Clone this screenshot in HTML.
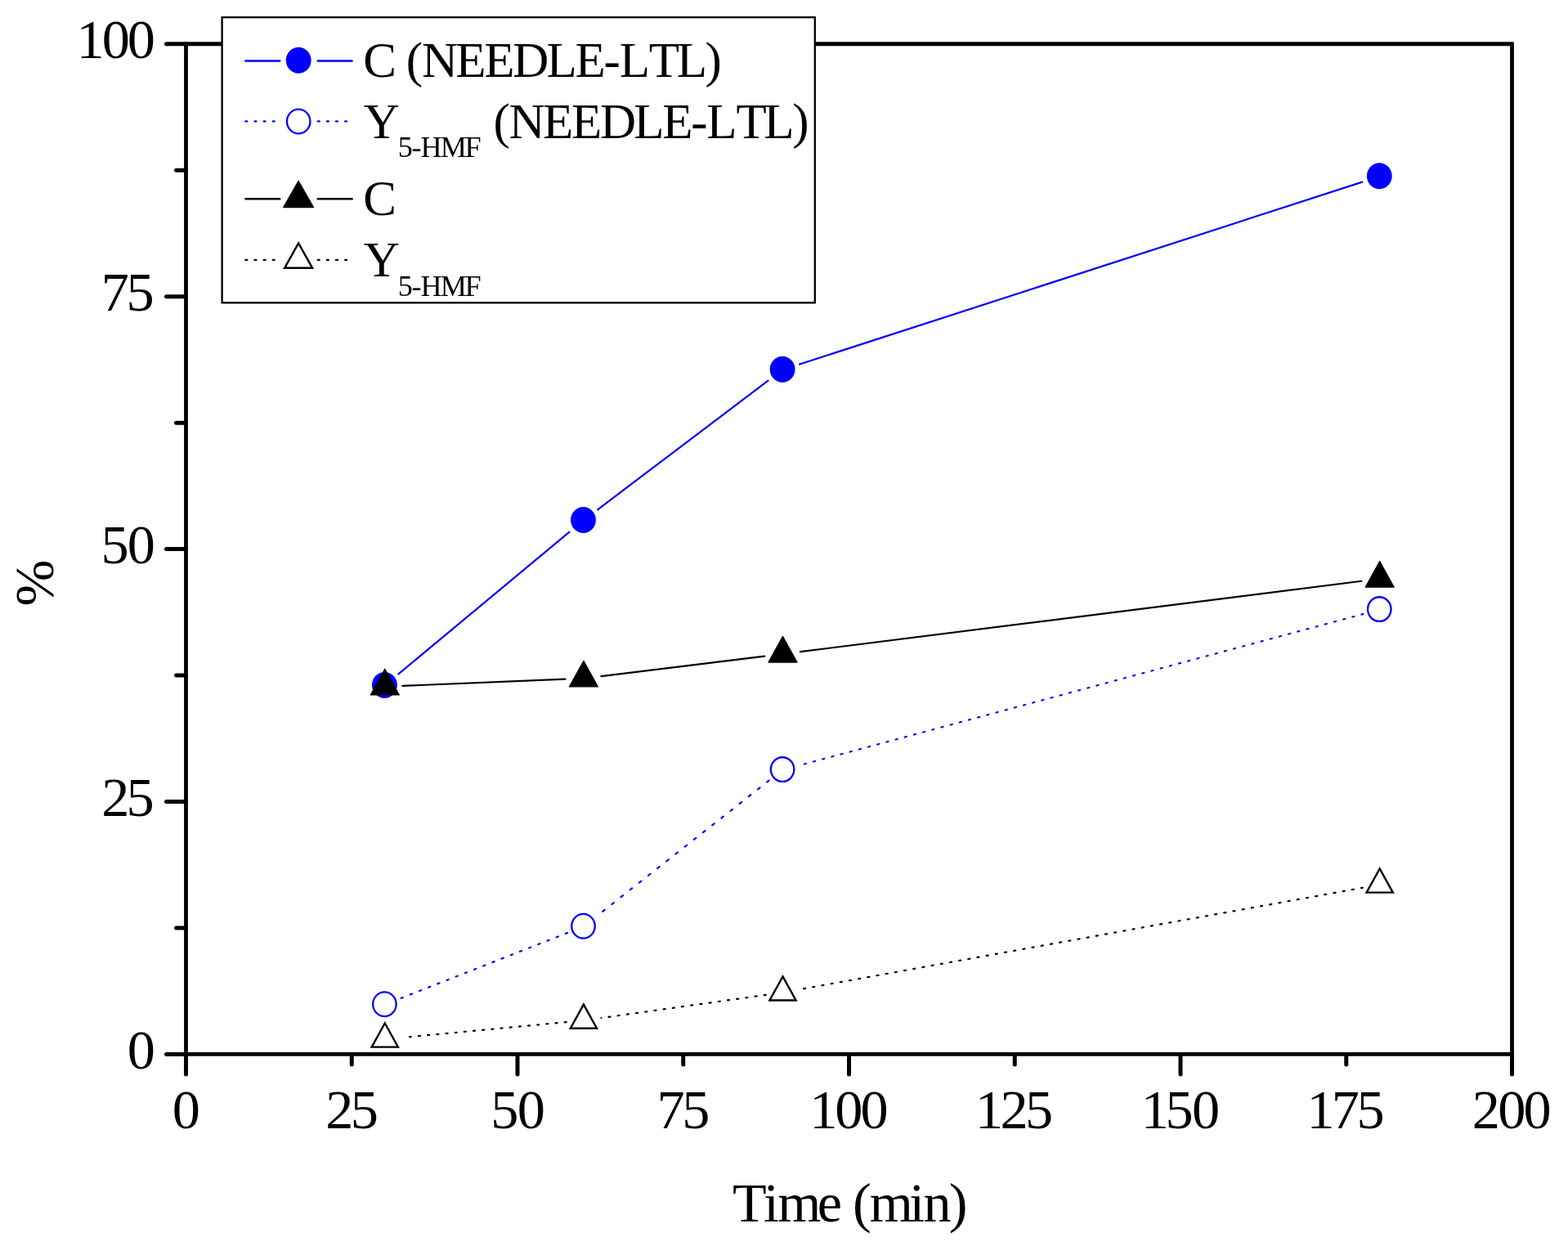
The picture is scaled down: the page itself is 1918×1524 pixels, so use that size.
<!DOCTYPE html>
<html lang="en"><head><meta charset="utf-8"><title>Time (min) vs %</title>
<style>
html,body{margin:0;padding:0;background:#fff;}
body{width:1918px;height:1524px;overflow:hidden;}
svg{display:block;}
text{font-family:"Liberation Serif","DejaVu Serif",serif;fill:#000;white-space:pre;}
</style></head><body>
<svg width="1918" height="1524" viewBox="0 0 1918 1524">
<rect width="1918" height="1524" fill="#fff"/>
<g stroke="#000" fill="none" stroke-width="4.8" stroke-linecap="butt">
<path d="M227.5 53.75H1849.5V1289.45H227.5Z" stroke-linejoin="miter"/>
</g>
<g stroke="#000" fill="none" stroke-width="5" stroke-linecap="round">
<path d="M227.5 1289.45H203.5"/>
<path d="M227.5 1134.99H215.5"/>
<path d="M227.5 980.53H203.5"/>
<path d="M227.5 826.06H215.5"/>
<path d="M227.5 671.6H203.5"/>
<path d="M227.5 517.14H215.5"/>
<path d="M227.5 362.68H203.5"/>
<path d="M227.5 208.21H215.5"/>
<path d="M227.5 53.75H203.5"/>
<path d="M227.5 1289.45V1313.95"/>
<path d="M430.25 1289.45V1301.95"/>
<path d="M633 1289.45V1313.95"/>
<path d="M835.75 1289.45V1301.95"/>
<path d="M1038.5 1289.45V1313.95"/>
<path d="M1241.25 1289.45V1301.95"/>
<path d="M1444 1289.45V1313.95"/>
<path d="M1646.75 1289.45V1301.95"/>
<path d="M1849.5 1289.45V1313.95"/>
</g>
<text x="155.87" y="1307.15" font-size="68.3">0</text>
<text x="124.22 154.57" y="998.23" font-size="68.3">25</text>
<text x="123.42 155.87" y="689.3" font-size="68.3">50</text>
<text x="123.82 154.57" y="380.38" font-size="68.3">75</text>
<text x="93.57 124.72 155.87" y="71.45" font-size="68.3">100</text>
<text x="210.73" y="1380.2" font-size="68.3">0</text>
<text x="398.3 428.65" y="1380.2" font-size="68.3">25</text>
<text x="600.25 632.7" y="1380.2" font-size="68.3">50</text>
<text x="803.4 834.15" y="1380.2" font-size="68.3">75</text>
<text x="990.2 1021.35 1052.5" y="1380.2" font-size="68.3">100</text>
<text x="1192.95 1223.6 1253.95" y="1380.2" font-size="68.3">125</text>
<text x="1395.7 1425.55 1458" y="1380.2" font-size="68.3">150</text>
<text x="1598.45 1628.7 1659.45" y="1380.2" font-size="68.3">175</text>
<text x="1800.7 1832.35 1863.5" y="1380.2" font-size="68.3">200</text>
<text x="895.97 934.03 951.34 999.8 1027.45 1043.03 1063.78 1112.24 1129.55 1160.7" y="1493.8" font-size="68.3">Time (min)</text>
<g transform="translate(65.4 741.4) rotate(-90)">
<text x="0" y="0" font-size="68.3">%</text>
</g>
<path d="M500.8 1268.24L692.75 1250.15" stroke="#000" stroke-width="2.2" stroke-linecap="round" stroke-dasharray="2.02 9.2" fill="none"/>
<path d="M744.49 1243.85L936.76 1216.86" stroke="#000" stroke-width="2.2" stroke-linecap="round" stroke-dasharray="2.04 9.26" fill="none"/>
<path d="M983.08 1209.31L1666.77 1085.81" stroke="#000" stroke-width="2.2" stroke-linecap="round" stroke-dasharray="2.07 9.29" fill="none"/>
<circle cx="735.5" cy="1245.11" r="1.1" fill="#000"/>
<path d="M490.62 1220.86L694.08 1141.02" stroke="#0000ff" stroke-width="2.2" stroke-linecap="round" stroke-dasharray="2.31 9.7" fill="none"/>
<path d="M737.16 1114.78L940.74 954.58" stroke="#0000ff" stroke-width="2.2" stroke-linecap="round" stroke-dasharray="3.14 11.07" fill="none"/>
<path d="M983.86 934.52L1667.24 751.09" stroke="#0000ff" stroke-width="2.2" stroke-linecap="round" stroke-dasharray="2.15 9.42" fill="none"/>
<path d="M492.48 838.89L691.42 830.71" stroke="#000" stroke-width="2.2" stroke-linecap="round" fill="none"/>
<path d="M735.44 827.11L935.16 802.59" stroke="#000" stroke-width="2.2" stroke-linecap="round" fill="none"/>
<path d="M979.03 797.14L1665.37 710.76" stroke="#000" stroke-width="2.2" stroke-linecap="round" fill="none"/>
<path d="M487.4 824.38L696.5 650.72" stroke="#0000ff" stroke-width="2.2" stroke-linecap="round" fill="none"/>
<path d="M731.13 623.27L939.47 465.68" stroke="#0000ff" stroke-width="2.2" stroke-linecap="round" fill="none"/>
<path d="M978.12 445.54L1666.28 222.61" stroke="#0000ff" stroke-width="2.2" stroke-linecap="round" fill="none"/>
<path d="M470.8 1251.5L486.9 1280.6H454.7Z" fill="#fff" stroke="#000" stroke-width="2.4" stroke-linejoin="miter"/>
<path d="M713.9 1228.6L730 1257.7H697.8Z" fill="#fff" stroke="#000" stroke-width="2.4" stroke-linejoin="miter"/>
<path d="M957.5 1194.4L973.6 1223.5H941.4Z" fill="#fff" stroke="#000" stroke-width="2.4" stroke-linejoin="miter"/>
<path d="M1687.7 1062.5L1703.8 1091.6H1671.6Z" fill="#fff" stroke="#000" stroke-width="2.4" stroke-linejoin="miter"/>
<ellipse cx="470.4" cy="1228.2" rx="14.25" ry="14.85" fill="#fff" stroke="#0000ff" stroke-width="2.3"/>
<ellipse cx="713.5" cy="1132.8" rx="14.25" ry="14.85" fill="#fff" stroke="#0000ff" stroke-width="2.3"/>
<ellipse cx="957.1" cy="941.1" rx="14.25" ry="14.85" fill="#fff" stroke="#0000ff" stroke-width="2.3"/>
<ellipse cx="1687.3" cy="745.1" rx="14.25" ry="14.85" fill="#fff" stroke="#0000ff" stroke-width="2.3"/>
<ellipse cx="470.4" cy="837.9" rx="15.4" ry="16" fill="#0000ff"/>
<ellipse cx="713.5" cy="636" rx="15.4" ry="16" fill="#0000ff"/>
<ellipse cx="957.1" cy="451.75" rx="15.4" ry="16" fill="#0000ff"/>
<ellipse cx="1687.3" cy="215.2" rx="15.4" ry="16" fill="#0000ff"/>
<path d="M470.8 818.3L488.35 850H453.25Z" fill="#000" stroke="#000" stroke-width="1.2" stroke-linejoin="round"/>
<path d="M713.9 808.3L731.45 840H696.35Z" fill="#000" stroke="#000" stroke-width="1.2" stroke-linejoin="round"/>
<path d="M957.5 778.4L975.05 810.1H939.95Z" fill="#000" stroke="#000" stroke-width="1.2" stroke-linejoin="round"/>
<path d="M1687.7 686.5L1705.25 718.2H1670.15Z" fill="#000" stroke="#000" stroke-width="1.2" stroke-linejoin="round"/>
<rect x="271.6" y="21.2" width="725.2" height="349.1" fill="#fff" stroke="#000" stroke-width="2.3"/>
<path d="M300.4 74.5H342.2" stroke="#0000ff" stroke-width="2.4" stroke-linecap="round" fill="none"/>
<path d="M388.8 74.5H430.6" stroke="#0000ff" stroke-width="2.4" stroke-linecap="round" fill="none"/>
<ellipse cx="365.2" cy="73.8" rx="15.4" ry="16" fill="#0000ff"/>
<path d="M300.4 148.4H335.5" stroke="#0000ff" stroke-width="2.4" stroke-linecap="round" fill="none" stroke-dasharray="1.8 9.35"/>
<path d="M388.8 148.4H423.9" stroke="#0000ff" stroke-width="2.4" stroke-linecap="round" fill="none" stroke-dasharray="1.8 9.35"/>
<ellipse cx="365.2" cy="148.45" rx="14.25" ry="14.85" fill="#fff" stroke="#0000ff" stroke-width="2.3"/>
<path d="M300.4 243.3H342.2" stroke="#000" stroke-width="2.4" stroke-linecap="round" fill="none"/>
<path d="M388.8 243.3H430.6" stroke="#000" stroke-width="2.4" stroke-linecap="round" fill="none"/>
<path d="M365.1 221.4L383.5 253.6H346.7Z" fill="#000" stroke="#000" stroke-width="1.2" stroke-linejoin="round"/>
<path d="M300.4 317.9H335.5" stroke="#000" stroke-width="2.4" stroke-linecap="round" fill="none" stroke-dasharray="1.8 9.35"/>
<path d="M388.8 317.9H423.9" stroke="#000" stroke-width="2.4" stroke-linecap="round" fill="none" stroke-dasharray="1.8 9.35"/>
<path d="M365.1 297.4L382.1 327.8H348.1Z" fill="#fff" stroke="#000" stroke-width="2.4" stroke-linejoin="miter"/>
<text><tspan x="444.3 482.5 496.82 515.9 557.26 592.25 627.24 668.61 703.59 738.58 757.66 793.81 827.63 862.62" y="94.3" font-size="61">C (NEEDLE-LTL)</tspan></text>
<text><tspan x="444.8" y="169.3" font-size="61">Y</tspan><tspan x="486.7 503.43 514.58 538.75 568.5" y="192.2" font-size="36.2">5-HMF</tspan><tspan x="589.18 603.5 622.57 663.94 698.93 733.92 775.28 810.27 845.26 864.33 900.48 934.31 969.3" y="169.3" font-size="61"> (NEEDLE-LTL)</tspan></text>
<text><tspan x="444.3" y="263.2" font-size="61">C</tspan></text>
<text><tspan x="444.8" y="338.2" font-size="61">Y</tspan><tspan x="486.7 503.43 514.58 538.75 568.5" y="362.1" font-size="36.2">5-HMF</tspan></text>
</svg>
</body></html>
